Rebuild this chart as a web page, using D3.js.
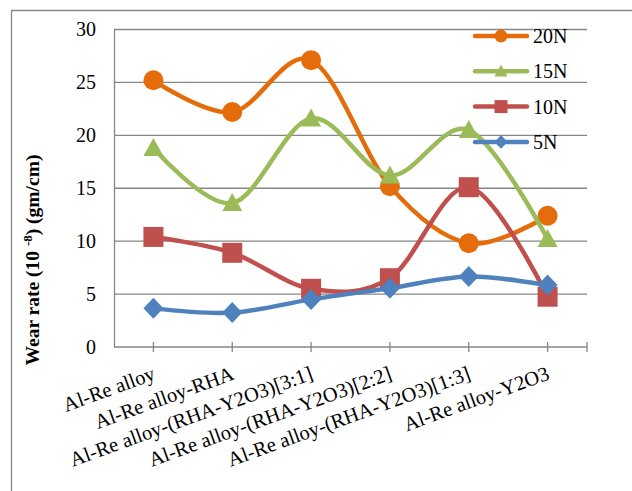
<!DOCTYPE html>
<html>
<head>
<meta charset="utf-8">
<script src="https://cdn.jsdelivr.net/npm/d3@7"></script>
<style>
  html, body { margin: 0; padding: 0; background: #fff; }
  svg { display: block; }
  text { font-family: "Liberation Serif", "DejaVu Serif", serif; fill: #000; }
</style>
</head>
<body>
<svg id="chart" width="632" height="491"></svg>
<script>
// Wear rate per composition for four applied loads
const categories = [
  "Al-Re alloy",
  "Al-Re alloy-RHA",
  "Al-Re alloy-(RHA-Y2O3)[3:1]",
  "Al-Re alloy-(RHA-Y2O3)[2:2]",
  "Al-Re alloy-(RHA-Y2O3)[1:3]",
  "Al-Re alloy-Y2O3"
];
const load20N = [25.2, 22.2, 27.1, 15.2, 9.8, 12.4];
const load15N = [18.8, 13.6, 21.6, 16.2, 20.5, 10.2];
const load10N = [10.4, 8.9, 5.5, 6.5, 15.1, 4.75];
const load5N  = [3.65, 3.25, 4.5, 5.55, 6.65, 5.85];
const seriesNames = ["20N", "15N", "10N", "5N"];
const yTicks = [0, 5, 10, 15, 20, 25, 30];

const series = [
  { name: seriesNames[0], values: load20N, color: "#E46C0A", marker: "circle" },
  { name: seriesNames[1], values: load15N, color: "#9BBB59", marker: "triangle" },
  { name: seriesNames[2], values: load10N, color: "#C0504D", marker: "square" },
  { name: seriesNames[3], values: load5N,  color: "#4F81BD", marker: "diamond" }
];

const svg = d3.select("#chart");
const gridColor = "#868686";

// outer chart frame (top and left edges)
svg.append("path")
  .attr("d", "M11.5,491 V10.5 H632")
  .attr("fill", "none").attr("stroke", gridColor).attr("stroke-width", 1.3);

const plot = { left: 114, right: 587, top: 29.5, bottom: 347 };

const x = d3.scalePoint().domain(categories).range([plot.left, plot.right]).padding(0.5);
const y = d3.scaleLinear().domain([0, 30]).range([plot.bottom, plot.top]);

// horizontal gridlines
svg.append("g").selectAll("line").data(yTicks.filter(t => t > 0)).join("line")
  .attr("x1", plot.left).attr("x2", plot.right)
  .attr("y1", d => y(d)).attr("y2", d => y(d))
  .attr("stroke", gridColor).attr("stroke-width", 1.3);

// value axis
const yAxis = svg.append("g").attr("transform", `translate(${plot.left},0)`)
  .call(d3.axisLeft(y).tickValues(yTicks).tickSize(0).tickPadding(18));
yAxis.select(".domain").attr("stroke", gridColor).attr("stroke-width", 1.3);
yAxis.selectAll("text").attr("font-size", 20).attr("font-family", "Liberation Serif");

// category axis
const xAxis = svg.append("g").attr("transform", `translate(0,${plot.bottom})`);
xAxis.append("line").attr("x1", plot.left).attr("x2", plot.right)
  .attr("stroke", gridColor).attr("stroke-width", 1.3);
const tickXs = categories.map(c => x(c)).concat([plot.right]);
xAxis.selectAll("line.tick").data(tickXs).join("line").attr("class", "tick")
  .attr("x1", d => d).attr("x2", d => d).attr("y1", -5).attr("y2", 5)
  .attr("stroke", gridColor).attr("stroke-width", 1.3);
xAxis.selectAll("text").data(categories).join("text")
  .attr("transform", d => `translate(${x(d) + 3},${32}) rotate(-20)`)
  .attr("text-anchor", "end")
  .attr("font-size", 20.5)
  .text(d => d);

// y-axis title
const title = svg.append("text")
  .attr("transform", "translate(39,260) rotate(-90)")
  .attr("text-anchor", "middle")
  .attr("font-size", 19.5).attr("font-weight", "bold");
title.append("tspan").text("Wear rate (10 ");
title.append("tspan").attr("font-size", 13).attr("baseline-shift", "7").text("-8");
title.append("tspan").text(") (gm/cm)");

// marker shapes, w = overall width in px
function markerPath(type, w) {
  const h = w / 2;
  if (type === "circle") return d3.symbol().type(d3.symbolCircle).size(Math.PI * h * h)();
  if (type === "square") return `M${-h},${-h}H${h}V${h}H${-h}Z`;
  if (type === "triangle") return `M0,${-h * 1.0}L${h},${h * 0.8}H${-h}Z`;
  return `M0,${-h * 1.05}L${h},0L0,${h * 1.05}L${-h},0Z`;
}

const line = d3.line()
  .x((d, i) => x(categories[i]))
  .y(d => y(d))
  .curve(d3.curveCardinal.tension(0));

series.forEach(s => {
  const g = svg.append("g");
  g.append("path").attr("d", line(s.values))
    .attr("fill", "none").attr("stroke", s.color).attr("stroke-width", 4.5)
    .attr("stroke-linejoin", "round").attr("stroke-linecap", "round");
  g.selectAll("path.m").data(s.values).join("path").attr("class", "m")
    .attr("d", markerPath(s.marker, 20))
    .attr("transform", (d, i) => `translate(${x(categories[i])},${y(d)})`)
    .attr("fill", s.color);
});

// legend
const legend = svg.append("g");
series.forEach((s, i) => {
  const ly = 36 + i * 35.3;
  const g = legend.append("g").attr("transform", `translate(0,${ly})`);
  g.append("line").attr("x1", 475).attr("x2", 527)
    .attr("stroke", s.color).attr("stroke-width", 4.5).attr("stroke-linecap", "round");
  g.append("path").attr("d", markerPath(s.marker, 13))
    .attr("transform", "translate(501,0)")
    .attr("fill", s.color);
  g.append("text").attr("x", 533).attr("y", 7).attr("font-size", 20).text(s.name);
});
</script>
</body>
</html>
